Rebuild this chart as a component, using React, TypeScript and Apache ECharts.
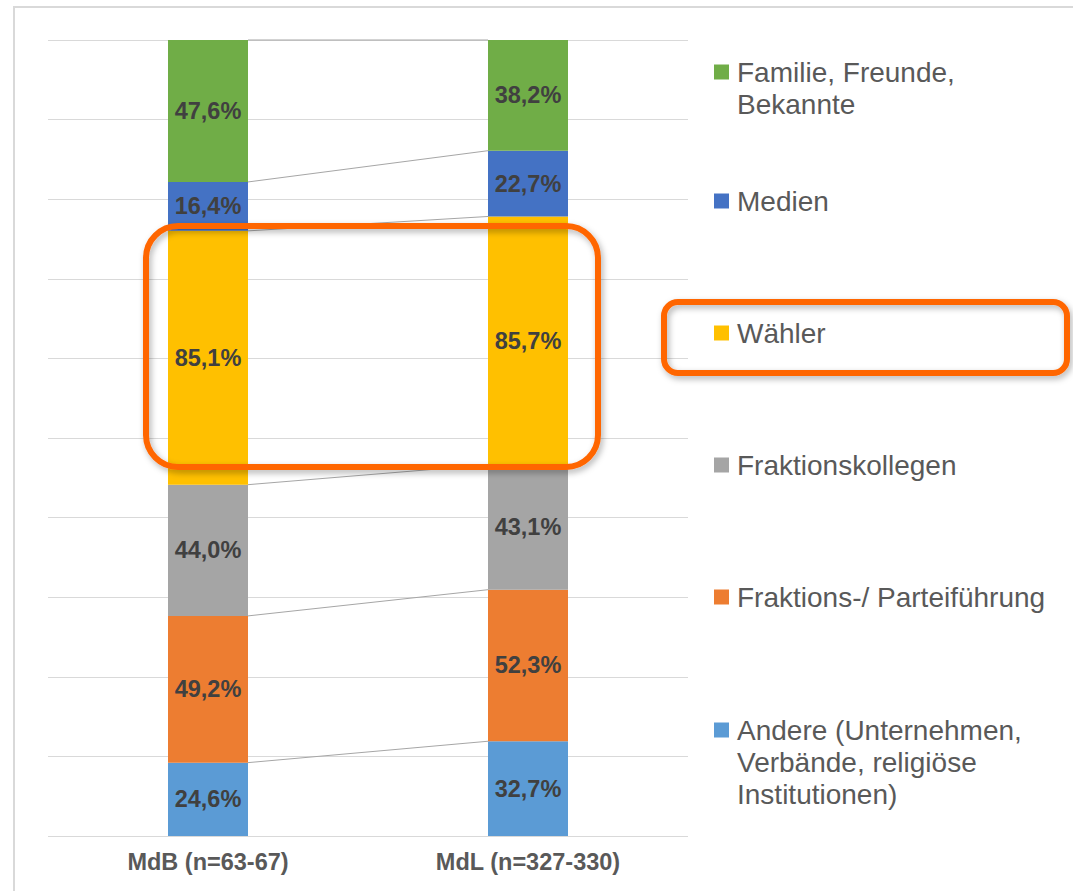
import React, { useEffect, useRef } from "react";
import * as echarts from "echarts";

// ---- data ----
const categories = ["MdB (n=63-67)", "MdL (n=327-330)"];
const seriesNames = [
  "Andere (Unternehmen, Verbände, religiöse Institutionen)",
  "Fraktions-/ Parteiführung",
  "Fraktionskollegen",
  "Wähler",
  "Medien",
  "Familie, Freunde, Bekannte",
];
const legendLabels = [
  "Andere (Unternehmen,\nVerbände, religiöse\nInstitutionen)",
  "Fraktions-/ Parteiführung",
  "Fraktionskollegen",
  "Wähler",
  "Medien",
  "Familie, Freunde,\nBekannte",
];
const andere = [24.6, 32.7];
const fuehrung = [49.2, 52.3];
const kollegen = [44.0, 43.1];
const waehler = [85.1, 85.7];
const medien = [16.4, 22.7];
const familie = [47.6, 38.2];
const seriesValues = [andere, fuehrung, kollegen, waehler, medien, familie];
const colors = ["#5B9BD5", "#ED7D31", "#A5A5A5", "#FFC000", "#4472C4", "#70AD47"];

// legend first-line centre positions (layout)
const legendCenters = [730, 597, 465, 333, 201, 72];

const FONT = "'Liberation Sans', Arial, sans-serif";

export default function App() {
  const ref = useRef<HTMLDivElement>(null);

  useEffect(() => {
    document.body.style.margin = "0";
    if (!ref.current) return;
    const chart = echarts.init(ref.current, undefined, { renderer: "svg" });

    const totals = categories.map((_, ci) =>
      seriesValues.reduce((s, arr) => s + arr[ci], 0)
    );
    const normalized = seriesValues.map((arr) =>
      arr.map((v, ci) => (v / totals[ci]) * 100)
    );
    // cumulative tops for the series lines
    const boundaries: number[][] = [];
    const cum = categories.map(() => 0);
    normalized.forEach((arr) => {
      arr.forEach((v, ci) => (cum[ci] += v));
      boundaries.push([0, cum[0], cum[1]]);
    });

    const fmt = (v: number) => v.toFixed(1).replace(".", ",") + "%";

    const barSeries = seriesNames.map((name, si) => ({
      name,
      type: "bar",
      stack: "total",
      barWidth: "25%",
      itemStyle: { color: colors[si] },
      label: {
        show: true,
        position: "inside",
        fontFamily: FONT,
        fontSize: 23.5,
        fontWeight: "bold",
        color: "#404040",
        formatter: (p: any) => fmt(seriesValues[si][p.dataIndex]),
      },
      data: normalized[si],
      z: 2,
    }));

    const lineSeries = {
      type: "custom",
      name: "seriesLines",
      silent: true,
      z: 1,
      encode: { x: 0, y: [1, 2] },
      data: boundaries,
      renderItem: (_params: any, api: any) => {
        const p1 = api.coord([0, api.value(1)]);
        const p2 = api.coord([1, api.value(2)]);
        const half = api.size([1, 0])[0] * 0.125;
        return {
          type: "line",
          shape: { x1: p1[0] + half, y1: p1[1], x2: p2[0] - half, y2: p2[1] },
          style: { stroke: "#A6A6A6", lineWidth: 1 },
        };
      },
    };

    const legends = seriesNames.map((name, i) => {
      const lines = legendLabels[i].split("\n");
      const n = lines.length;
      // leading blank lines so that the first text line sits beside the icon
      const padded = [...Array(n - 1).fill(" "), ...lines].join("\n");
      return {
        data: [name],
        left: 714,
        top: legendCenters[i] - (2 * n - 1) * 16,
        orient: "vertical",
        icon: "rect",
        itemWidth: 15,
        itemHeight: 15,
        itemGap: 0,
        padding: 0,
        selectedMode: false,
        formatter: () => padded,
        textStyle: {
          fontFamily: FONT,
          fontSize: 28,
          color: "#595959",
          lineHeight: 32,
          padding: [0, 0, 0, 3],
        },
      };
    });

    chart.setOption({
      animation: false,
      backgroundColor: "#ffffff",
      grid: { left: 48, right: 385, top: 40, bottom: 55 },
      xAxis: {
        type: "category",
        data: categories,
        axisLine: { show: false },
        axisTick: { show: false },
        axisLabel: {
          fontFamily: FONT,
          fontSize: 23.5,
          fontWeight: "bold",
          color: "#595959",
          margin: 14,
        },
      },
      yAxis: {
        type: "value",
        min: 0,
        max: 100,
        interval: 10,
        axisLabel: { show: false },
        axisLine: { show: false },
        axisTick: { show: false },
        splitLine: { lineStyle: { color: "#D9D9D9", width: 1 } },
      },
      legend: legends,
      series: [...barSeries, lineSeries],
      graphic: [
        {
          type: "rect",
          z: 0,
          silent: true,
          shape: { x: 14, y: 7, width: 1200, height: 1000 },
          style: { fill: "none", stroke: "#D9D9D9", lineWidth: 2 },
        },
        {
          type: "rect",
          z: 100,
          silent: true,
          shape: { x: 146, y: 226, width: 452, height: 241, r: 32 },
          style: {
            fill: "none",
            stroke: "#FF6600",
            lineWidth: 6,
            shadowBlur: 6,
            shadowColor: "rgba(0,0,0,0.3)",
            shadowOffsetX: 2,
            shadowOffsetY: 3,
          },
        },
        {
          type: "rect",
          z: 100,
          silent: true,
          shape: { x: 664, y: 302, width: 403, height: 71, r: 14 },
          style: {
            fill: "none",
            stroke: "#FF6600",
            lineWidth: 6,
            shadowBlur: 6,
            shadowColor: "rgba(0,0,0,0.3)",
            shadowOffsetX: 2,
            shadowOffsetY: 3,
          },
        },
      ],
    });

    return () => chart.dispose();
  }, []);

  return <div ref={ref} style={{ width: 1073, height: 891 }} />;
}
